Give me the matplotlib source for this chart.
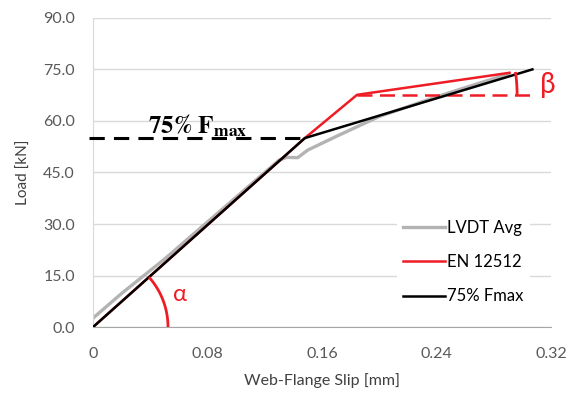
import numpy as np
import matplotlib
matplotlib.use("Agg")
import matplotlib.pyplot as plt

plt.rcParams['font.family'] = ['Lato', 'DejaVu Sans']
plt.rcParams['mathtext.fontset'] = 'stix'

# LVDT average (measured) curve
lvdt_slip = [0.0, 0.02, 0.05, 0.08, 0.11, 0.13, 0.1355, 0.143, 0.15, 0.17, 0.20, 0.24, 0.27, 0.29]
lvdt_load = [2.6, 9.8, 19.8, 30.6, 41.4, 48.6, 49.4, 49.3, 51.5, 55.5, 61.3, 67.0, 71.0, 73.6]

# EN 12512 bilinear fit
en_slip = [0.0, 0.148, 0.1845, 0.291]
en_load = [0.0, 55.0, 67.6, 74.0]

# 75% Fmax bilinear fit
f75_slip = [0.0, 0.148, 0.307]
f75_load = [0.0, 55.0, 75.0]

x_ticks = [0, 0.08, 0.16, 0.24, 0.32]
x_labels = ['0', '0.08', '0.16', '0.24', '0.32']
y_ticks = [0, 15, 30, 45, 60, 75, 90]

fig = plt.figure(figsize=(5.74, 3.96), dpi=100)
ax = fig.add_axes([0.162, 0.174, 0.798, 0.781])

ax.plot(lvdt_slip, lvdt_load, color='#b3b3b3', lw=2.4, label='LVDT Avg', zorder=2)
ax.plot(en_slip, en_load, color='#ee1c25', lw=1.8, label='EN 12512', zorder=3)
ax.plot(f75_slip, f75_load, color='black', lw=1.8, label='75% Fmax', zorder=4)

# 75% Fmax dashed level
ax.plot([-0.003, f75_slip[1]], [f75_load[1], f75_load[1]], color='black', lw=2.2,
        dashes=(5, 3), clip_on=False, zorder=4)
ax.text(0.073, 58.5, r'$\mathbf{75\%\ F_{max}}$', fontsize=18, ha='center', va='center')

# horizontal red dashed reference for beta
ax.plot([en_slip[2], 0.305], [en_load[2], en_load[2]], color='#ee1c25', lw=1.8,
        dashes=(6, 3), zorder=3)

# pixel scale for circular arcs
px_x = 0.32 / 458.0
px_y = 90.0 / 309.0

def draw_arc(cx, cy, r_px, x2, y2):
    ang = np.arctan2((y2 - cy) / px_y, (x2 - cx) / px_x)
    t = np.linspace(0, ang, 40)
    ax.plot(cx + r_px * px_x * np.cos(t), cy + r_px * px_y * np.sin(t),
            color='#ee1c25', lw=2, zorder=5, solid_capstyle='butt')

draw_arc(0.0, 0.0, 75, f75_slip[1], f75_load[1])
ax.text(0.061, 9.5, 'α', color='#ee1c25', fontsize=17, ha='center', va='center')

draw_arc(en_slip[2], en_load[2], 160, en_slip[3], en_load[3])
ax.text(0.318, 70.5, 'β', color='#ee1c25', fontsize=20, ha='center', va='center')

ax.set_xlim(0, 0.32)
ax.set_ylim(0, 90)
ax.set_xticks(x_ticks)
ax.set_xticklabels(x_labels)
ax.set_yticks(y_ticks)
ax.set_yticklabels([f'{v:.1f}' for v in y_ticks])
ax.tick_params(length=0, labelsize=11.5, labelcolor='#595959')
ax.tick_params(axis='x', pad=14)
ax.tick_params(axis='y', pad=13)
ax.grid(axis='y', color='#d9d9d9', lw=1)
ax.set_axisbelow(True)
for s in ['top', 'right']:
    ax.spines[s].set_visible(False)
ax.spines['left'].set_color('#d9d9d9')
ax.spines['bottom'].set_color('#a6a6a6')

ax.set_xlabel('Web-Flange Slip [mm]', fontsize=11.5, color='#404040', labelpad=9)
ax.set_ylabel('Load [kN]', fontsize=11, color='#404040', labelpad=9)

leg = ax.legend(loc='center right', bbox_to_anchor=(0.955, 0.21), borderaxespad=0,
                frameon=True, fontsize=12, handlelength=2.5, handletextpad=0.15,
                labelspacing=1.1, borderpad=0.4)
leg.get_frame().set_edgecolor('none')
leg.get_frame().set_facecolor('white')
leg.get_frame().set_alpha(1)

fig.savefig('out.png', dpi=100)
